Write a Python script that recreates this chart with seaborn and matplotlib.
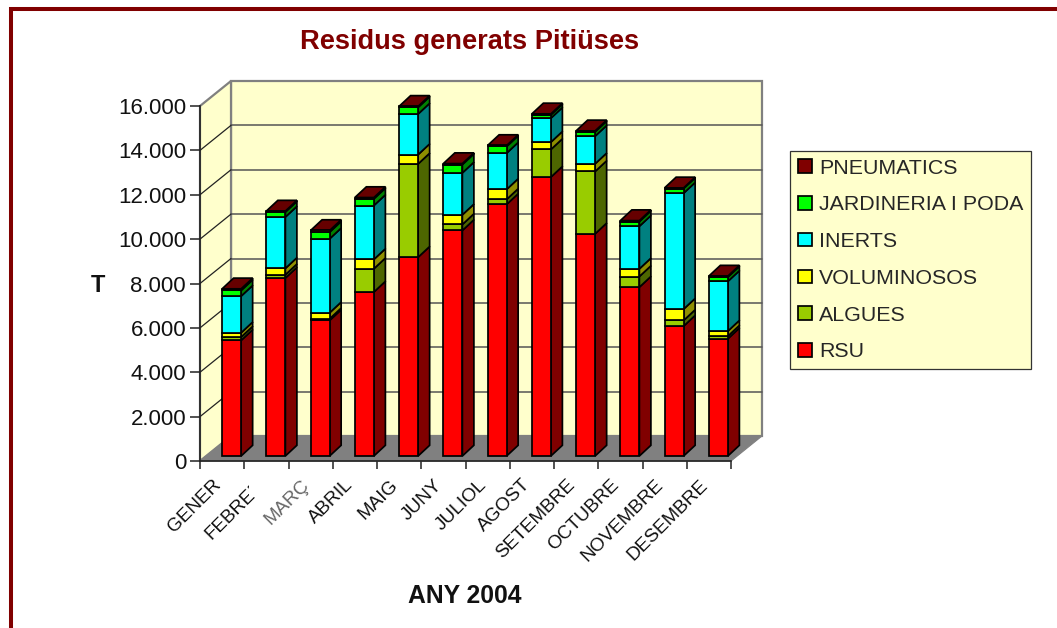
import matplotlib
matplotlib.use("Agg")
import matplotlib.pyplot as plt
import numpy as np
import pandas as pd
import seaborn as sns
from matplotlib.patches import Polygon, Rectangle
from matplotlib.transforms import Affine2D

# values in tonnes
meses = ["GENER", "FEBRER", "MARÇ", "ABRIL", "MAIG", "JUNY", "JULIOL", "AGOST",
         "SETEMBRE", "OCTUBRE", "NOVEMBRE", "DESEMBRE"]
rsu = [5210, 8020, 6110, 7390, 8960, 10165, 11340, 12570, 10015, 7610, 5855, 5285]
algues = [150, 150, 75, 1050, 4205, 270, 225, 1245, 2810, 480, 255, 120]
voluminosos = [195, 285, 270, 420, 420, 435, 450, 330, 345, 345, 510, 225]
inerts = [1650, 2315, 3335, 2430, 1830, 1890, 1635, 1080, 1245, 1920, 5225, 2240]
jardineria = [255, 225, 300, 300, 300, 375, 300, 150, 195, 210, 210, 195]
pneumatics = [75, 45, 75, 60, 45, 45, 45, 45, 45, 45, 30, 45]

y_ticks = [0, 2000, 4000, 6000, 8000, 10000, 12000, 14000, 16000]
y_labels = ["0", "2.000", "4.000", "6.000", "8.000", "10.000", "12.000", "14.000", "16.000"]

series = [
    ("RSU", rsu, "#ff0000", "#800000"),
    ("ALGUES", algues, "#99cc00", "#4d6600"),
    ("VOLUMINOSOS", voluminosos, "#ffff00", "#8f8f00"),
    ("INERTS", inerts, "#00ffff", "#008080"),
    ("JARDINERIA I PODA", jardineria, "#00ff00", "#008000"),
    ("PNEUMATICS", pneumatics, "#800000", "#660000"),
]

sns.set_theme(style="white")
plt.rcParams["font.family"] = ["Liberation Sans", "DejaVu Sans"]

W, H = 1057, 628
fig = plt.figure(figsize=(W / 100, H / 100), dpi=100, facecolor="white")
ax = fig.add_axes([200 / W, (H - 461) / H, 531 / W, 355 / H])

df = pd.DataFrame({"mes": meses, "RSU": rsu, "ALGUES": algues, "VOLUMINOSOS": voluminosos,
                   "INERTS": inerts, "JARDINERIA I PODA": jardineria, "PNEUMATICS": pneumatics})

bottom = np.zeros(len(meses))
for name, values, front, side in series:
    sns.barplot(data=df, x="mes", y=name, bottom=bottom, color=front, saturation=1,
                width=0.43, edgecolor="black", linewidth=1.25, errorbar=None,
                label=name, ax=ax)
    bottom = bottom + np.array(values)

ax.set_xlim(-0.5, 11.5)
ax.set_ylim(0, 16000)

# pixel sizes of the fake 3d look, turned into data units
px_x = 12 / 531
px_y = 16000 / 355
wall_dx, wall_dy = 31 * px_x, 25 * px_y
bar_dx, bar_dy = 9.5 * px_x, 5 * px_y
deep_dx, deep_dy = 11.5 * px_x, 10.7 * px_y

x0, x1 = -0.5, 11.5
back_col = "#ffffcc"
wall_edge = "#808080"

# walls and floor
ax.add_patch(Polygon([(x0 + wall_dx, wall_dy), (x1 + wall_dx, wall_dy),
                      (x1 + wall_dx, 16000 + wall_dy), (x0 + wall_dx, 16000 + wall_dy)],
                     fc=back_col, ec=wall_edge, lw=1.6, clip_on=False, zorder=0.5))
ax.add_patch(Polygon([(x0, 0), (x0 + wall_dx, wall_dy), (x0 + wall_dx, 16000 + wall_dy), (x0, 16000)],
                     fc=back_col, ec=wall_edge, lw=1.6, clip_on=False, zorder=0.5))
for t in y_ticks[1:-1]:
    ax.plot([x0 + wall_dx, x1 + wall_dx], [t + wall_dy] * 2, color="#555555", lw=1.1,
            clip_on=False, zorder=0.8)
    ax.plot([x0, x0 + wall_dx], [t, t + wall_dy], color="#222222", lw=0.9,
            clip_on=False, zorder=0.8)
ax.add_patch(Polygon([(x0, 0), (x0 + wall_dx, wall_dy), (x1 + wall_dx, wall_dy), (x1, 0)],
                     fc="#808080", ec="#808080", lw=0.8, clip_on=False, zorder=1))

# move the seaborn bars back and add side and top faces
for (name, values, front, side), cont in zip(series, ax.containers):
    for r in cont:
        r.set_x(r.get_x() + bar_dx)
        r.set_y(r.get_y() + bar_dy)
        r.set_zorder(4)
        r.set_clip_on(False)
        xl, xr = r.get_x(), r.get_x() + r.get_width()
        yb, yt = r.get_y(), r.get_y() + r.get_height()
        ax.add_patch(Polygon([(xr, yb), (xr + deep_dx, yb + deep_dy), (xr + deep_dx, yt + deep_dy), (xr, yt)],
                             fc=side, ec="black", lw=1.25, clip_on=False, zorder=3))
        if name == "PNEUMATICS":
            ax.add_patch(Polygon([(xl, yt), (xr, yt), (xr + deep_dx, yt + deep_dy), (xl + deep_dx, yt + deep_dy)],
                                 fc=side, ec="black", lw=1.25, clip_on=False, zorder=3))

# axes and ticks
sns.despine(ax=ax, top=True, right=True)
for s in ["left", "bottom"]:
    ax.spines[s].set_color("#222222")
    ax.spines[s].set_linewidth(1.2)
    ax.spines[s].set_zorder(2)

ax.set_yticks(y_ticks)
ax.set_yticklabels(y_labels, fontsize=16, color="#111111")
ax.set_xticks(np.arange(len(meses)))
ax.set_xticklabels(meses, rotation=45, ha="right", rotation_mode="anchor", fontsize=13.7, color="#111111")
ax.set_xticks(np.arange(-0.5, 12), minor=True)
ax.tick_params(axis="y", left=True, length=7, width=1.1, color="#222222", pad=3)
ax.tick_params(axis="x", which="major", bottom=False, pad=5)
ax.tick_params(axis="x", which="minor", bottom=True, length=6, width=1.1, color="#222222")
ax.set_xlabel("")
ax.set_ylabel("")
for lab in ax.get_xticklabels():
    lab.set_transform(lab.get_transform() + Affine2D().translate(-10, 0))
ax.get_xticklabels()[2].set_color("#666666")

fig.text(98 / W, 1 - 285 / H, "T", fontsize=17, fontweight="bold", ha="center", va="center", color="#111111")
fig.text(465 / W, 1 - 596 / H, "ANY 2004", fontsize=17.8, fontweight="bold", ha="center", va="center", color="#111111")
fig.text(470 / W, 1 - 42 / H, "Residus generats Pitiüses", fontsize=19.6, fontweight="bold",
         ha="center", va="center", color="#800000")

# legend, top entry first
handles, labels = ax.get_legend_handles_labels()
leg = ax.legend(handles[::-1], labels[::-1], loc="upper left",
                bbox_to_anchor=(790 / W, 1 - 151 / H), bbox_transform=fig.transFigure,
                borderaxespad=0, fontsize=15.4, frameon=True, fancybox=False, framealpha=1,
                facecolor=back_col, edgecolor="#333333", handlelength=0.65, handleheight=0.6,
                handletextpad=0.35, labelspacing=0.83, borderpad=0.36)
leg.get_frame().set_linewidth(0.9)

# the end of FEBRER is wiped out in the original
fig.add_artist(Rectangle((249 / W, 1 - 497 / H), 19 / W, 28 / H, transform=fig.transFigure,
                         fc="white", ec="none", zorder=10))

# dark red page border, open to the right and bottom
border = Rectangle((11 / W, -10 / H), (W + 20) / W, (H + 1) / H, transform=fig.transFigure,
                   fc="none", ec="#800000", lw=2.9, zorder=11)
fig.add_artist(border)

fig.savefig("out.png", dpi=100)
